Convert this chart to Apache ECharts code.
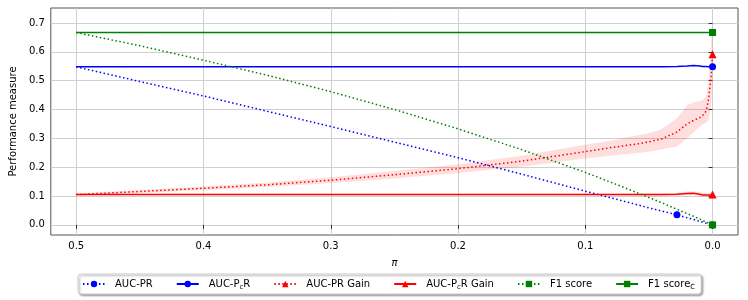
<!DOCTYPE html>
<html>
<head>
<meta charset="utf-8">
<script src="https://cdn.jsdelivr.net/npm/echarts@6/dist/echarts.min.js"></script>
<style>html,body{margin:0;padding:0;background:#fff}#c{width:748px;height:300px}</style>
</head>
<body>
<div id="c"></div>
<script>
// class prior pi (x axis, inverted)
const pi = [0.5, 0.45, 0.4, 0.35, 0.3, 0.25, 0.2, 0.15, 0.1, 0.08, 0.06, 0.05, 0.04, 0.028, 0.02, 0.015, 0.01, 0.008, 0.005, 0.003, 0.001, 0];
const aucPR      = [0.548, 0.497, 0.447, 0.394, 0.341, 0.287, 0.233, 0.176, 0.117, 0.094, 0.071, 0.059, 0.048, 0.035, 0.025, 0.019, 0.012, 0.010, 0.006, 0.004, 0.001, 0.0];
const aucPcR     = [0.548, 0.548, 0.548, 0.548, 0.548, 0.548, 0.548, 0.548, 0.548, 0.548, 0.548, 0.548, 0.548, 0.549, 0.551, 0.553, 0.551, 0.549, 0.549, 0.548, 0.548, 0.548];
const aucPRGain  = [0.105, 0.116, 0.127, 0.139, 0.155, 0.174, 0.195, 0.221, 0.254, 0.268, 0.280, 0.288, 0.298, 0.322, 0.350, 0.362, 0.372, 0.378, 0.395, 0.440, 0.520, 0.592];
const gainLo     = [0.101, 0.111, 0.121, 0.131, 0.145, 0.161, 0.180, 0.202, 0.230, 0.240, 0.248, 0.254, 0.262, 0.272, 0.300, 0.320, 0.340, 0.347, 0.355, 0.364, 0.420, 0.500];
const gainHi     = [0.109, 0.121, 0.133, 0.147, 0.165, 0.187, 0.210, 0.240, 0.278, 0.292, 0.310, 0.318, 0.332, 0.370, 0.415, 0.425, 0.430, 0.433, 0.445, 0.500, 0.640, 0.710];
const aucPcRGain = [0.105, 0.105, 0.105, 0.105, 0.105, 0.105, 0.105, 0.105, 0.105, 0.105, 0.105, 0.105, 0.105, 0.106, 0.109, 0.110, 0.106, 0.104, 0.104, 0.104, 0.104, 0.105];
const pcrGainLo  = [0.103, 0.103, 0.103, 0.103, 0.103, 0.103, 0.103, 0.103, 0.102, 0.102, 0.101, 0.100, 0.100, 0.100, 0.102, 0.103, 0.099, 0.097, 0.097, 0.096, 0.095, 0.095];
const pcrGainHi  = [0.107, 0.107, 0.107, 0.107, 0.107, 0.107, 0.107, 0.107, 0.108, 0.108, 0.109, 0.110, 0.110, 0.112, 0.116, 0.117, 0.113, 0.111, 0.111, 0.112, 0.114, 0.116];
const f1         = [0.667, 0.621, 0.571, 0.519, 0.462, 0.400, 0.333, 0.261, 0.182, 0.148, 0.113, 0.095, 0.077, 0.054, 0.039, 0.030, 0.020, 0.016, 0.010, 0.006, 0.002, 0.0];
const f1C        = [0.667, 0.667, 0.667, 0.667, 0.667, 0.667, 0.667, 0.667, 0.667, 0.667, 0.667, 0.667, 0.667, 0.667, 0.667, 0.667, 0.667, 0.667, 0.667, 0.667, 0.667, 0.667];
const xTicks = [0.5, 0.4, 0.3, 0.2, 0.1, 0.0];
const yTicks = [0.0, 0.1, 0.2, 0.3, 0.4, 0.5, 0.6, 0.7];
const names = ['AUC-PR', 'AUC-PcR', 'AUC-PR Gain', 'AUC-PcR Gain', 'F1 score', 'F1 scoreC'];

const FONT = 'DejaVu Sans';
const dotted = [1.5, 2.5];

function mk(ys, markIdx) {
  return pi.map((x, i) => markIdx.indexOf(i) >= 0 ? [x, ys[i]] : {value: [x, ys[i]], symbol: 'none'});
}
function band(lo, hi, color) {
  return {
    type: 'custom', z: 1, silent: true,
    data: pi.map((x, i) => [x, lo[i], hi[i]]),
    renderItem: function (params, api) {
      if (params.dataIndex !== 0) return null;
      const pts = [];
      for (let i = 0; i < pi.length; i++) pts.push(api.coord([pi[i], hi[i]]));
      for (let i = pi.length - 1; i >= 0; i--) pts.push(api.coord([pi[i], lo[i]]));
      return {type: 'polygon', shape: {points: pts}, style: {fill: color}};
    }
  };
}
function line(name, ys, color, type, symbol, markIdx) {
  return {
    name: name, type: 'line', data: mk(ys, markIdx), z: 3,
    symbol: symbol, symbolSize: symbol === 'triangle' ? 8 : 7, showAllSymbol: true,
    lineStyle: {color: color, width: 1.5, type: type},
    itemStyle: {color: color},
    animation: false
  };
}
const last = pi.length - 1;
const iMark = pi.indexOf(0.028);

const chart = echarts.init(document.getElementById('c'), null, {renderer: 'canvas'});
chart.setOption({
  animation: false,
  textStyle: {fontFamily: FONT},
  grid: {left: 42, right: 10, top: 8, bottom: 65, show: true, borderColor: '#555', borderWidth: 1},
  xAxis: {
    type: 'value', inverse: true, min: -0.02, max: 0.52,
    name: 'π', nameLocation: 'middle', nameGap: 23,
    nameTextStyle: {fontFamily: FONT, fontSize: 10, fontStyle: 'italic', color: '#000'},
    axisLine: {show: false},
    axisTick: {show: true, length: 4, customValues: xTicks, lineStyle: {color: '#333'}},
    axisLabel: {customValues: xTicks, margin: 6, fontFamily: FONT, fontSize: 10, color: '#000', formatter: v => v.toFixed(1)},
    splitLine: {show: true, lineStyle: {color: '#cfcfcf', width: 1}}
  },
  yAxis: {
    type: 'value', min: -0.035, max: 0.752,
    name: 'Performance measure', nameLocation: 'middle', nameGap: 29,
    nameTextStyle: {fontFamily: FONT, fontSize: 10, color: '#000'},
    axisLine: {show: false},
    axisTick: {show: true, length: 4, customValues: yTicks, lineStyle: {color: '#333'}},
    axisLabel: {customValues: yTicks, margin: 6, fontFamily: FONT, fontSize: 10, color: '#000', formatter: v => v.toFixed(1)},
    splitLine: {show: true, lineStyle: {color: '#cfcfcf', width: 1}}
  },
  legend: {
    data: names, left: 78, top: 274, orient: 'horizontal',
    itemWidth: 22, itemHeight: 8, itemGap: 23,
    padding: [3, 6, 3, 4],
    backgroundColor: '#fff', borderColor: '#cccccc', borderWidth: 1, borderRadius: 3,
    shadowBlur: 2, shadowColor: 'rgba(0,0,0,0.35)', shadowOffsetX: 1.5, shadowOffsetY: 1.5,
    textStyle: {fontFamily: FONT, fontSize: 10, color: '#000', lineHeight: 14, padding: [0, 0, 0, 5],
      rich: {sub: {fontFamily: FONT, fontSize: 7, lineHeight: 8, verticalAlign: 'bottom', color: '#000'}}},
    formatter: function (n) {
      if (n === 'AUC-PcR') return 'AUC-P{sub|c}R';
      if (n === 'AUC-PcR Gain') return 'AUC-P{sub|c}R Gain';
      if (n === 'F1 scoreC') return 'F1 score{sub|C}';
      return n;
    }
  },
  series: [
    band(gainLo, gainHi, 'rgba(255,0,0,0.13)'),
    band(pcrGainLo, pcrGainHi, 'rgba(255,0,0,0.10)'),
    line(names[0], aucPR, '#0000ff', dotted, 'circle', [iMark, last]),
    line(names[1], aucPcR, '#0000ff', 'solid', 'circle', [last]),
    line(names[2], aucPRGain, '#ff0000', dotted, 'triangle', [last]),
    line(names[3], aucPcRGain, '#ff0000', 'solid', 'triangle', [last]),
    line(names[4], f1, '#008000', dotted, 'rect', [last]),
    line(names[5], f1C, '#008000', 'solid', 'rect', [last])
  ]
});
</script>
</body>
</html>
